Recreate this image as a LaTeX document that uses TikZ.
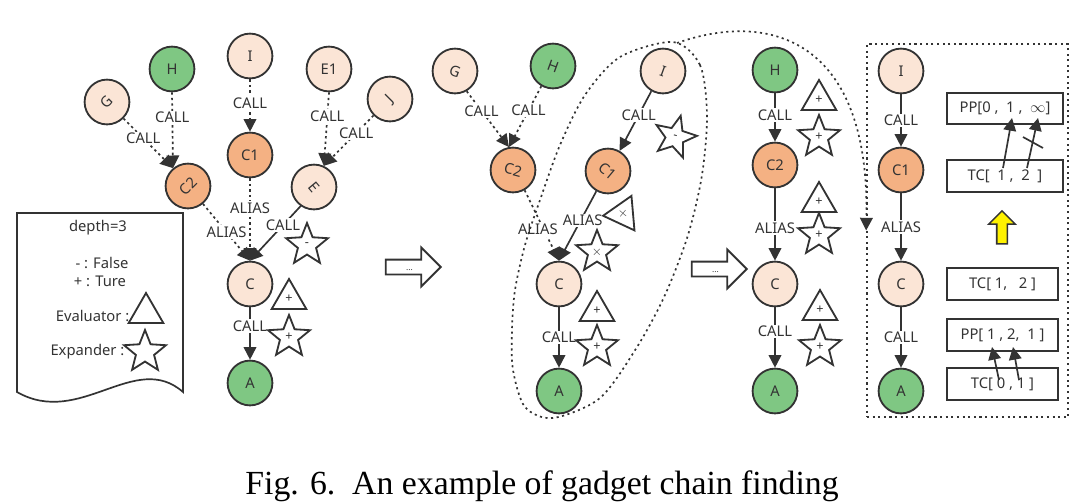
\documentclass[tikz,border=0pt]{standalone}
\usepackage{fontspec}
\setmainfont{Noto Sans}
\newfontfamily\capfont{Liberation Serif}
\usetikzlibrary{arrows.meta,shapes.geometric,shapes.arrows}
\definecolor{peach}{HTML}{FBE5D6}
\definecolor{orng}{HTML}{F4B183}
\definecolor{grn}{HTML}{7FC783}
\definecolor{ink}{HTML}{333333}
\newcommand{\tilt}[2]{\rotatebox[origin=c]{#1}{#2}}
\tikzset{
  fn/.style={circle,draw=ink,line width=1.3pt,minimum size=1.12cm,inner sep=0pt,
    text=ink,font=\fontsize{10.5}{12}\selectfont},
  fnp/.style={fn,fill=peach},
  fno/.style={fn,fill=orng},
  fng/.style={fn,fill=grn},
  lbl/.style={fill=white,inner sep=1pt,text=ink,font=\fontsize{10.5}{12}\selectfont},
  txt/.style={inner sep=1pt,text=ink,font=\fontsize{10.5}{12}\selectfont},
  link/.style={draw=ink,line width=1.2pt,-{Triangle[length=9pt,width=9pt]}},
  dlink/.style={link,dash pattern=on 1.7pt off 2.2pt},
  dotline/.style={draw=ink,line width=1.2pt,dash pattern=on 1.5pt off 2.5pt},
  tri/.style={regular polygon,regular polygon sides=3,draw=ink,line width=1.3pt,
    fill=white,minimum size=1.0cm,inner sep=0pt,text=ink,font=\fontsize{9}{9}\selectfont},
  starn/.style={star,star points=5,star point ratio=2.3,draw=ink,line width=1.3pt,
    fill=white,minimum size=1.1cm,inner sep=0pt,text=ink,font=\fontsize{9}{9}\selectfont},
  nextarrow/.style={single arrow,draw=ink,line width=1.3pt,minimum height=1.375cm,
    single arrow head extend=0.3cm,inner sep=0pt,text height=0.25cm,text depth=0.075cm,
    text=ink,font=\fontsize{6}{6}\selectfont},
  valbox/.style={rectangle,draw=ink,line width=1.3pt,minimum height=0.78cm,inner sep=0pt,
    text=ink,font=\fontsize{10.5}{12}\selectfont},
}
\begin{document}
\begin{tikzpicture}[x=0.025cm,y=-0.025cm]
  \useasboundingbox (0,0) rectangle (1092,502);
  % legend sheet
  \draw[draw=ink,line width=1.2pt] (17,392) -- (17,213) -- (183,213) -- (183,392)
    .. controls (135,350) and (80,428) .. (17,392) -- cycle;
  \node[txt] (depth) at (98,228) {depth=3};
  \node[txt] (fls) at (102,263) {- : False};
  \node[txt] (tru) at (100,281) {+ : Ture};
  \node[txt,anchor=east] (evl) at (131,316) {Evaluator :};
  \node[tri] (evltri) at (146,313) {};
  \node[txt,anchor=east] (exl) at (126,352) {Expander :};
  \node[starn] (exstar) at (145,352) {};

  % first graph
  \node[fnp] (G1) at (107,102) {\tilt{45}{G}};
  \node[fng] (H1) at (172,69) {H};
  \node[fnp] (I1) at (250,56) {I};
  \node[fnp] (E11) at (329,69) {E1};
  \node[fnp] (J1) at (390,99) {\tilt{45}{J}};
  \node[fno] (C21) at (188,186) {\tilt{45}{C2}};
  \node[fno] (C11) at (250,155) {C1};
  \node[fnp] (E1) at (314,187) {\tilt{-50}{E}};
  \node[fnp] (C1) at (250,284) {C};
  \node[fng] (A1) at (250,383) {A};
  \draw[dlink] (G1.-45) -- node[lbl,pos=0.4] (g1l) {CALL} (C21.130);
  \draw[dlink] (H1.south) -- node[lbl,pos=0.33] (h1l) {CALL} (C21.130);
  \draw[dlink] (I1.south) -- node[lbl,pos=0.45] (i1l) {CALL} (C11.north);
  \draw[dlink] (E11.south) -- node[lbl,pos=0.32] (e11l) {CALL} (E1.65);
  \draw[dlink] (J1.225) -- node[lbl,pos=0.35] (j1l) {CALL} (E1.65);
  \draw[dlink] (C21.-50) -- node[lbl,pos=0.5] (c21l) {ALIAS} (C1.north);
  \draw[dlink] (C11.south) -- node[lbl,pos=0.36] (c11l) {ALIAS} (C1.north);
  \draw[link] (E1.235) -- node[lbl,pos=0.35] (e1l) {CALL} (C1.north);
  \draw[link] (C1.south) -- node[lbl,pos=0.36] (c1l) {CALL} (A1.north);
  \node[starn] (s1) at (307,245) {-};
  \node[tri] (t2) at (289,299) {+};
  \node[starn] (s2) at (289,337) {+};

  \node[nextarrow] (go1) at (409.5,267) {...};

  % second graph
  \node[fnp] (G2) at (455,71) {\tilt{-20}{G}};
  \node[fng] (H2) at (553,66) {\tilt{-20}{H}};
  \node[fnp] (I2) at (663,71) {\tilt{-20}{I}};
  \node[fno] (C22) at (513,170) {\tilt{-15}{C2}};
  \node[fno] (C12) at (608,171) {\tilt{-40}{C1}};
  \node[fnp] (C2) at (559,284) {C};
  \node[fng] (A2) at (559,391) {A};
  \draw[dlink] (G2.-60) -- node[lbl,pos=0.35] (g2l) {CALL} (C22.100);
  \draw[dlink] (H2.240) -- node[lbl,pos=0.4] (h2l) {CALL} (C22.100);
  \draw[link] (I2.240) -- node[lbl,pos=0.4] (i2l) {CALL} (C12.60);
  \draw[dlink] (C22.-60) -- node[lbl,pos=0.56,xshift=-0.15cm] (c22l) {ALIAS} (C2.north);
  \draw[link] (C12.240) -- node[lbl,pos=0.42,xshift=0.05cm] (c12l) {ALIAS} (C2.north);
  \draw[link] (C2.south) -- node[lbl,pos=0.5] (c2l) {CALL} (A2.north);
  \node[starn,rotate=-15] (s3) at (675,137) {-};
  \node[tri,rotate=95] (t3) at (623,214) {\(\times\)};
  \node[starn] (s4) at (597,252) {\(\times\)};
  \node[tri] (t4) at (597,311) {+};
  \node[starn] (s5) at (597,347) {+};
  \draw[dotline] plot[smooth cycle] coordinates {(673,42) (700,65) (707,115) (702,175)
    (688,235) (665,295) (637,347) (600,398) (553,418) (525,407) (513,370) (512,330)
    (515,290) (525,245) (540,200) (560,145) (585,95) (620,57)};
  \coordinate (elltop) at (677,43);

  \node[nextarrow] (go2) at (715.5,269) {...};

  % third graph
  \node[fng] (H3) at (775,70) {H};
  \node[fno] (C23) at (775,165) {C2};
  \node[fnp] (C3) at (775,284) {C};
  \node[fng] (A3) at (775,391) {A};
  \draw[link] (H3.south) -- node[lbl,pos=0.45] (h3l) {CALL} (C23.north);
  \draw[link] (C23.south) -- node[lbl,pos=0.55] (c23l) {ALIAS} (C3.north);
  \draw[link] (C3.south) -- node[lbl,pos=0.4] (c3l) {CALL} (A3.north);
  \node[tri] (t5) at (819,100) {+};
  \node[starn] (s6) at (819,137) {+};
  \node[tri] (t6) at (819,202) {+};
  \node[starn] (s7) at (819,235) {+};
  \node[tri] (t7) at (820,310) {+};
  \node[starn] (s8) at (820,347) {+};

  % zoomed chain
  \node[dotline,rectangle,minimum width=5.025cm,minimum height=9.325cm] (focus) at (967.5,230.5) {};
  \draw[dotline,-{Triangle[length=9pt,width=9pt]}] (elltop)
    .. controls (770,10) and (870,40) .. (focus.west);
  \node[fnp] (I4) at (901,71) {I};
  \node[fno] (C14) at (901,170) {C1};
  \node[fnp] (C4) at (901,284) {C};
  \node[fng] (A4) at (901,391) {A};
  \draw[link] (I4.south) -- node[lbl,pos=0.5] (i4l) {CALL} (C14.north);
  \draw[link] (C14.south) -- node[lbl,pos=0.5] (c14l) {ALIAS} (C4.north);
  \draw[link] (C4.south) -- node[lbl,pos=0.5] (c4l) {CALL} (A4.north);
  \node[valbox,minimum width=2.9cm] (pp0) at (1005,108.5) {PP[0 ,\ \ 1 ,\ \ \(\infty\)]};
  \node[valbox,minimum width=2.9cm] (tc12) at (1005,176) {TC[\ \ 1 ,\ \ 2\ \ ]};
  \node[single arrow,rotate=90,draw=ink,line width=1.1pt,fill=yellow,minimum height=0.825cm,
    single arrow head extend=0.2cm,inner sep=0pt,text height=0.225cm,text depth=0pt] (up) at (1002,230) {};
  \node[valbox,minimum width=2.775cm] (tc12b) at (1002.5,284) {TC[ 1,\ \ \ 2 ]};
  \node[valbox,minimum width=2.775cm] (pp121) at (1002.5,335) {PP[ 1 , 2,\ \ 1 ]};
  \node[valbox,minimum width=2.775cm] (tc01) at (1002.5,384) {TC[ 0 , 1 ]};
  \coordinate (ta) at (1003,168); \coordinate (pa) at (1012,118);
  \coordinate (tb) at (1027,168); \coordinate (pb) at (1038,118);
  \draw[link] (ta) -- (pa);
  \draw[link] (tb) -- (pb);
  \coordinate (xa) at (1023,137); \coordinate (xb) at (1043,148);
  \draw[draw=ink,line width=1.2pt] (xa) -- (xb);
  \coordinate (tc) at (999,380); \coordinate (pc) at (992,347);
  \coordinate (td) at (1019,380); \coordinate (pd) at (1013,347);
  \draw[link] (tc) -- (pc);
  \draw[link] (td) -- (pd);

  \node[anchor=base,font=\capfont\fontsize{24}{28}\selectfont] (caption) at (542,494)
    {Fig. 6.\ \ An example of gadget chain finding};
\end{tikzpicture}
\end{document}
